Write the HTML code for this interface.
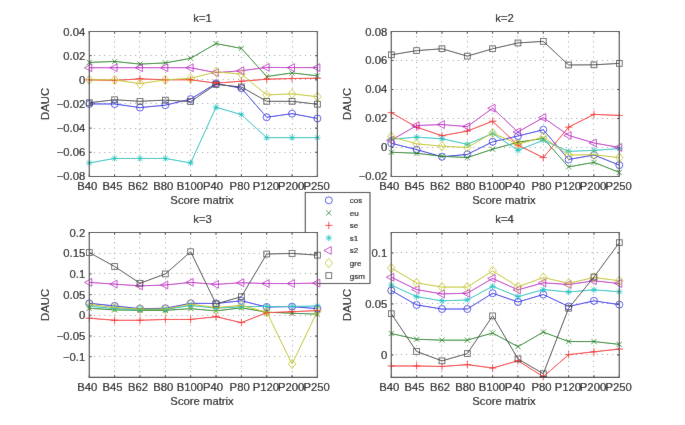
<!DOCTYPE html>
<html><head><meta charset="utf-8"><style>
html,body{margin:0;padding:0;background:#fff;}
svg{display:block;}
text{font-family:"Liberation Sans", sans-serif;font-size:11.3px;fill:#000;stroke:#000;stroke-width:0.15px;}
.yl{text-anchor:end;}
.xl{text-anchor:middle;}
.lg{font-size:8px;}
.grid{stroke:#999;stroke-width:1;stroke-dasharray:1 4.15;stroke-dashoffset:0.5;fill:none;}
.tick{stroke:#333;stroke-width:1;fill:none;}
.axh{stroke:#3a3a3a;stroke-width:1.1;fill:none;}
.axv{stroke:#555;stroke-width:1.25;fill:none;}
.ln{fill:none;stroke-width:1.0;stroke-linejoin:round;}
.mk *{fill:none;stroke-width:0.8;}
</style></head><body>
<svg width="685" height="425" viewBox="0 0 685 425">
<defs><filter id="bl" x="0" y="0" width="1" height="1"><feConvolveMatrix order="3" kernelMatrix="0.01 0.05 0.01 0.05 0.76 0.05 0.01 0.05 0.01" edgeMode="duplicate"/></filter></defs>
<g filter="url(#bl)">
<rect width="685" height="425" fill="#fff"/>
<rect x="89.3" y="31.5" width="228.1" height="144.95" fill="#fff"/>
<path class="grid" d="M114.5 31.5V176.45M139.5 31.5V176.45M165.5 31.5V176.45M190.5 31.5V176.45M216.5 31.5V176.45M241.5 31.5V176.45M266.5 31.5V176.45M292.5 31.5V176.45M89.3 55.5H317.4M89.3 79.5H317.4M89.3 103.5H317.4M89.3 128.5H317.4M89.3 152.5H317.4"/>
<path class="tick" d="M89.3 176.45v-2.3M89.3 31.5v2.3M114.64 176.45v-2.3M114.64 31.5v2.3M139.99 176.45v-2.3M139.99 31.5v2.3M165.33 176.45v-2.3M165.33 31.5v2.3M190.68 176.45v-2.3M190.68 31.5v2.3M216.02 176.45v-2.3M216.02 31.5v2.3M241.37 176.45v-2.3M241.37 31.5v2.3M266.71 176.45v-2.3M266.71 31.5v2.3M292.06 176.45v-2.3M292.06 31.5v2.3M317.4 176.45v-2.3M317.4 31.5v2.3M89.3 31.5h2.3M317.4 31.5h-2.3M89.3 55.66h2.3M317.4 55.66h-2.3M89.3 79.82h2.3M317.4 79.82h-2.3M89.3 103.97h2.3M317.4 103.97h-2.3M89.3 128.13h2.3M317.4 128.13h-2.3M89.3 152.29h2.3M317.4 152.29h-2.3M89.3 176.45h2.3M317.4 176.45h-2.3"/>
<polyline class="ln" points="89.3,103.97 114.64,103.97 139.99,107.6 165.33,105.18 190.68,99.14 216.02,83.44 241.37,88.27 266.71,117.26 292.06,113.64 317.4,118.47" stroke="#2626e6"/>
<g class="mk"><circle cx="89.3" cy="103.97" r="3.5" stroke="#2626e6"/><circle cx="114.64" cy="103.97" r="3.5" stroke="#2626e6"/><circle cx="139.99" cy="107.6" r="3.5" stroke="#2626e6"/><circle cx="165.33" cy="105.18" r="3.5" stroke="#2626e6"/><circle cx="190.68" cy="99.14" r="3.5" stroke="#2626e6"/><circle cx="216.02" cy="83.44" r="3.5" stroke="#2626e6"/><circle cx="241.37" cy="88.27" r="3.5" stroke="#2626e6"/><circle cx="266.71" cy="117.26" r="3.5" stroke="#2626e6"/><circle cx="292.06" cy="113.64" r="3.5" stroke="#2626e6"/><circle cx="317.4" cy="118.47" r="3.5" stroke="#2626e6"/></g>
<polyline class="ln" points="89.3,62.42 114.64,61.46 139.99,64.11 165.33,62.91 190.68,58.32 216.02,43.58 241.37,48.41 266.71,76.56 292.06,72.93 317.4,75.83" stroke="#128012"/>
<g class="mk"><path d="M86.7 59.82L91.9 65.02M86.7 65.02L91.9 59.82" stroke="#128012"/><path d="M112.04 58.86L117.24 64.06M112.04 64.06L117.24 58.86" stroke="#128012"/><path d="M137.39 61.51L142.59 66.71M137.39 66.71L142.59 61.51" stroke="#128012"/><path d="M162.73 60.31L167.93 65.51M162.73 65.51L167.93 60.31" stroke="#128012"/><path d="M188.08 55.72L193.28 60.92M188.08 60.92L193.28 55.72" stroke="#128012"/><path d="M213.42 40.98L218.62 46.18M213.42 46.18L218.62 40.98" stroke="#128012"/><path d="M238.77 45.81L243.97 51.01M238.77 51.01L243.97 45.81" stroke="#128012"/><path d="M264.11 73.96L269.31 79.16M264.11 79.16L269.31 73.96" stroke="#128012"/><path d="M289.46 70.33L294.66 75.53M289.46 75.53L294.66 70.33" stroke="#128012"/><path d="M314.8 73.23L320 78.43M314.8 78.43L320 73.23" stroke="#128012"/></g>
<polyline class="ln" points="89.3,79.82 114.64,80.42 139.99,78.85 165.33,79.82 190.68,79.82 216.02,83.08 241.37,81.27 266.71,79.21 292.06,78.49 317.4,78.25" stroke="#f41c1c"/>
<g class="mk"><path d="M85.6 79.82H93M89.3 76.12V83.52" stroke="#f41c1c"/><path d="M110.94 80.42H118.34M114.64 76.72V84.12" stroke="#f41c1c"/><path d="M136.29 78.85H143.69M139.99 75.15V82.55" stroke="#f41c1c"/><path d="M161.63 79.82H169.03M165.33 76.12V83.52" stroke="#f41c1c"/><path d="M186.98 79.82H194.38M190.68 76.12V83.52" stroke="#f41c1c"/><path d="M212.32 83.08H219.72M216.02 79.38V86.78" stroke="#f41c1c"/><path d="M237.67 81.27H245.07M241.37 77.57V84.97" stroke="#f41c1c"/><path d="M263.01 79.21H270.41M266.71 75.51V82.91" stroke="#f41c1c"/><path d="M288.36 78.49H295.76M292.06 74.79V82.19" stroke="#f41c1c"/><path d="M313.7 78.25H321.1M317.4 74.55V81.95" stroke="#f41c1c"/></g>
<polyline class="ln" points="89.3,162.92 114.64,158.45 139.99,158.45 165.33,158.45 190.68,162.92 216.02,107.24 241.37,114.6 266.71,137.68 292.06,137.68 317.4,137.68" stroke="#14c0c0"/>
<g class="mk"><path d="M86.1 162.92H92.5M89.3 159.72V166.12M86.9 160.52L91.7 165.32M86.9 165.32L91.7 160.52" stroke="#14c0c0"/><path d="M111.44 158.45H117.84M114.64 155.25V161.65M112.24 156.05L117.04 160.85M112.24 160.85L117.04 156.05" stroke="#14c0c0"/><path d="M136.79 158.45H143.19M139.99 155.25V161.65M137.59 156.05L142.39 160.85M137.59 160.85L142.39 156.05" stroke="#14c0c0"/><path d="M162.13 158.45H168.53M165.33 155.25V161.65M162.93 156.05L167.73 160.85M162.93 160.85L167.73 156.05" stroke="#14c0c0"/><path d="M187.48 162.92H193.88M190.68 159.72V166.12M188.28 160.52L193.08 165.32M188.28 165.32L193.08 160.52" stroke="#14c0c0"/><path d="M212.82 107.24H219.22M216.02 104.04V110.44M213.62 104.84L218.42 109.64M213.62 109.64L218.42 104.84" stroke="#14c0c0"/><path d="M238.17 114.6H244.57M241.37 111.4V117.8M238.97 112.2L243.77 117M238.97 117L243.77 112.2" stroke="#14c0c0"/><path d="M263.51 137.68H269.91M266.71 134.48V140.88M264.31 135.28L269.11 140.08M264.31 140.08L269.11 135.28" stroke="#14c0c0"/><path d="M288.86 137.68H295.26M292.06 134.48V140.88M289.66 135.28L294.46 140.08M289.66 140.08L294.46 135.28" stroke="#14c0c0"/><path d="M314.2 137.68H320.6M317.4 134.48V140.88M315 135.28L319.8 140.08M315 140.08L319.8 135.28" stroke="#14c0c0"/></g>
<polyline class="ln" points="89.3,67.74 114.64,67.74 139.99,67.74 165.33,67.74 190.68,67.74 216.02,72.69 241.37,70.76 266.71,67.38 292.06,67.62 317.4,67.62" stroke="#bc1cc4"/>
<g class="mk"><path d="M84.4 67.74L91.75 63.84L91.75 71.64Z" stroke="#bc1cc4"/><path d="M109.74 67.74L117.09 63.84L117.09 71.64Z" stroke="#bc1cc4"/><path d="M135.09 67.74L142.44 63.84L142.44 71.64Z" stroke="#bc1cc4"/><path d="M160.43 67.74L167.78 63.84L167.78 71.64Z" stroke="#bc1cc4"/><path d="M185.78 67.74L193.13 63.84L193.13 71.64Z" stroke="#bc1cc4"/><path d="M211.12 72.69L218.47 68.79L218.47 76.59Z" stroke="#bc1cc4"/><path d="M236.47 70.76L243.82 66.86L243.82 74.66Z" stroke="#bc1cc4"/><path d="M261.81 67.38L269.16 63.48L269.16 71.28Z" stroke="#bc1cc4"/><path d="M287.16 67.62L294.51 63.72L294.51 71.52Z" stroke="#bc1cc4"/><path d="M312.5 67.62L319.85 63.72L319.85 71.52Z" stroke="#bc1cc4"/></g>
<polyline class="ln" points="89.3,79.82 114.64,79.82 139.99,83.68 165.33,79.82 190.68,78.37 216.02,71.84 241.37,74.14 266.71,94.92 292.06,93.83 317.4,96.73" stroke="#c4c418"/>
<g class="mk"><path d="M89.3 75.12L93.1 79.82L89.3 84.52L85.5 79.82Z" stroke="#c4c418"/><path d="M114.64 75.12L118.44 79.82L114.64 84.52L110.84 79.82Z" stroke="#c4c418"/><path d="M139.99 78.98L143.79 83.68L139.99 88.38L136.19 83.68Z" stroke="#c4c418"/><path d="M165.33 75.12L169.13 79.82L165.33 84.52L161.53 79.82Z" stroke="#c4c418"/><path d="M190.68 73.67L194.48 78.37L190.68 83.07L186.88 78.37Z" stroke="#c4c418"/><path d="M216.02 67.14L219.82 71.84L216.02 76.54L212.22 71.84Z" stroke="#c4c418"/><path d="M241.37 69.44L245.17 74.14L241.37 78.84L237.57 74.14Z" stroke="#c4c418"/><path d="M266.71 90.22L270.51 94.92L266.71 99.62L262.91 94.92Z" stroke="#c4c418"/><path d="M292.06 89.13L295.86 93.83L292.06 98.53L288.26 93.83Z" stroke="#c4c418"/><path d="M317.4 92.03L321.2 96.73L317.4 101.43L313.6 96.73Z" stroke="#c4c418"/></g>
<polyline class="ln" points="89.3,102.77 114.64,99.75 139.99,101.32 165.33,100.11 190.68,101.56 216.02,84.41 241.37,86.94 266.71,101.32 292.06,101.32 317.4,104.22" stroke="#444444"/>
<g class="mk"><rect x="86.4" y="99.87" width="5.8" height="5.8" stroke="#444444"/><rect x="111.74" y="96.85" width="5.8" height="5.8" stroke="#444444"/><rect x="137.09" y="98.42" width="5.8" height="5.8" stroke="#444444"/><rect x="162.43" y="97.21" width="5.8" height="5.8" stroke="#444444"/><rect x="187.78" y="98.66" width="5.8" height="5.8" stroke="#444444"/><rect x="213.12" y="81.51" width="5.8" height="5.8" stroke="#444444"/><rect x="238.47" y="84.04" width="5.8" height="5.8" stroke="#444444"/><rect x="263.81" y="98.42" width="5.8" height="5.8" stroke="#444444"/><rect x="289.16" y="98.42" width="5.8" height="5.8" stroke="#444444"/><rect x="314.5" y="101.32" width="5.8" height="5.8" stroke="#444444"/></g>
<path class="axh" d="M88.7 31.5H318M88.7 176.45H318"/>
<path class="axv" d="M89.3 31.5V176.45M317.4 31.5V176.45"/>
<text class="yl" x="85.3" y="35.5">0.04</text>
<text class="yl" x="85.3" y="59.66">0.02</text>
<text class="yl" x="85.3" y="83.82">0</text>
<text class="yl" x="85.3" y="107.97">−0.02</text>
<text class="yl" x="85.3" y="132.13">−0.04</text>
<text class="yl" x="85.3" y="156.29">−0.06</text>
<text class="yl" x="85.3" y="180.45">−0.08</text>
<text class="xl" x="87.2" y="189.95">B40</text>
<text class="xl" x="112.54" y="189.95">B45</text>
<text class="xl" x="138.09" y="189.95">B62</text>
<text class="xl" x="163.33" y="189.95">B80</text>
<text class="xl" x="189.93" y="189.95">B100</text>
<text class="xl" x="212.97" y="189.95">P40</text>
<text class="xl" x="239.67" y="189.95">P80</text>
<text class="xl" x="265.91" y="189.95">P120</text>
<text class="xl" x="291.11" y="189.95">P200</text>
<text class="xl" x="316.7" y="189.95">P250</text>
<text class="xl" x="202.05" y="204.05">Score matrix</text>
<text class="xl" x="202.55" y="22.2">k=1</text>
<text class="xl" transform="translate(49 103.97) rotate(-90)">DAUC</text>
<rect x="391.3" y="31.5" width="228" height="144.95" fill="#fff"/>
<path class="grid" d="M416.5 31.5V176.45M441.5 31.5V176.45M467.5 31.5V176.45M492.5 31.5V176.45M517.5 31.5V176.45M543.5 31.5V176.45M568.5 31.5V176.45M593.5 31.5V176.45M391.3 60.5H619.3M391.3 89.5H619.3M391.3 118.5H619.3M391.3 147.5H619.3"/>
<path class="tick" d="M391.3 176.45v-2.3M391.3 31.5v2.3M416.63 176.45v-2.3M416.63 31.5v2.3M441.97 176.45v-2.3M441.97 31.5v2.3M467.3 176.45v-2.3M467.3 31.5v2.3M492.63 176.45v-2.3M492.63 31.5v2.3M517.97 176.45v-2.3M517.97 31.5v2.3M543.3 176.45v-2.3M543.3 31.5v2.3M568.63 176.45v-2.3M568.63 31.5v2.3M593.97 176.45v-2.3M593.97 31.5v2.3M619.3 176.45v-2.3M619.3 31.5v2.3M391.3 31.5h2.3M619.3 31.5h-2.3M391.3 60.49h2.3M619.3 60.49h-2.3M391.3 89.48h2.3M619.3 89.48h-2.3M391.3 118.47h2.3M619.3 118.47h-2.3M391.3 147.46h2.3M619.3 147.46h-2.3M391.3 176.45h2.3M619.3 176.45h-2.3"/>
<polyline class="ln" points="391.3,143.26 416.63,149.63 441.97,156.74 467.3,154.42 492.63,141.81 517.97,136.01 543.3,129.78 568.63,159.49 593.97,155 619.3,165.14" stroke="#2626e6"/>
<g class="mk"><circle cx="391.3" cy="143.26" r="3.5" stroke="#2626e6"/><circle cx="416.63" cy="149.63" r="3.5" stroke="#2626e6"/><circle cx="441.97" cy="156.74" r="3.5" stroke="#2626e6"/><circle cx="467.3" cy="154.42" r="3.5" stroke="#2626e6"/><circle cx="492.63" cy="141.81" r="3.5" stroke="#2626e6"/><circle cx="517.97" cy="136.01" r="3.5" stroke="#2626e6"/><circle cx="543.3" cy="129.78" r="3.5" stroke="#2626e6"/><circle cx="568.63" cy="159.49" r="3.5" stroke="#2626e6"/><circle cx="593.97" cy="155" r="3.5" stroke="#2626e6"/><circle cx="619.3" cy="165.14" r="3.5" stroke="#2626e6"/></g>
<polyline class="ln" points="391.3,152.24 416.63,153.26 441.97,156.3 467.3,157.61 492.63,149.2 517.97,142.24 543.3,138.47 568.63,166.88 593.97,162.39 619.3,172.39" stroke="#128012"/>
<g class="mk"><path d="M388.7 149.64L393.9 154.84M388.7 154.84L393.9 149.64" stroke="#128012"/><path d="M414.03 150.66L419.23 155.86M414.03 155.86L419.23 150.66" stroke="#128012"/><path d="M439.37 153.7L444.57 158.9M439.37 158.9L444.57 153.7" stroke="#128012"/><path d="M464.7 155.01L469.9 160.21M464.7 160.21L469.9 155.01" stroke="#128012"/><path d="M490.03 146.6L495.23 151.8M490.03 151.8L495.23 146.6" stroke="#128012"/><path d="M515.37 139.64L520.57 144.84M515.37 144.84L520.57 139.64" stroke="#128012"/><path d="M540.7 135.87L545.9 141.07M540.7 141.07L545.9 135.87" stroke="#128012"/><path d="M566.03 164.28L571.23 169.48M566.03 169.48L571.23 164.28" stroke="#128012"/><path d="M591.37 159.79L596.57 164.99M591.37 164.99L596.57 159.79" stroke="#128012"/><path d="M616.7 169.79L621.9 174.99M616.7 174.99L621.9 169.79" stroke="#128012"/></g>
<polyline class="ln" points="391.3,112.67 416.63,127.17 441.97,135.72 467.3,131.08 492.63,121.22 517.97,145.14 543.3,157.61 568.63,127.17 593.97,114.41 619.3,115.43" stroke="#f41c1c"/>
<g class="mk"><path d="M387.6 112.67H395M391.3 108.97V116.37" stroke="#f41c1c"/><path d="M412.93 127.17H420.33M416.63 123.47V130.87" stroke="#f41c1c"/><path d="M438.27 135.72H445.67M441.97 132.02V139.42" stroke="#f41c1c"/><path d="M463.6 131.08H471M467.3 127.38V134.78" stroke="#f41c1c"/><path d="M488.93 121.22H496.33M492.63 117.52V124.92" stroke="#f41c1c"/><path d="M514.27 145.14H521.67M517.97 141.44V148.84" stroke="#f41c1c"/><path d="M539.6 157.61H547M543.3 153.91V161.31" stroke="#f41c1c"/><path d="M564.93 127.17H572.33M568.63 123.47V130.87" stroke="#f41c1c"/><path d="M590.27 114.41H597.67M593.97 110.71V118.11" stroke="#f41c1c"/><path d="M615.6 115.43H623M619.3 111.73V119.13" stroke="#f41c1c"/></g>
<polyline class="ln" points="391.3,139.2 416.63,137.17 441.97,138.76 467.3,144.27 492.63,133.4 517.97,150.36 543.3,140.21 568.63,151.37 593.97,150.36 619.3,148.62" stroke="#14c0c0"/>
<g class="mk"><path d="M388.1 139.2H394.5M391.3 136V142.4M388.9 136.8L393.7 141.6M388.9 141.6L393.7 136.8" stroke="#14c0c0"/><path d="M413.43 137.17H419.83M416.63 133.97V140.37M414.23 134.77L419.03 139.57M414.23 139.57L419.03 134.77" stroke="#14c0c0"/><path d="M438.77 138.76H445.17M441.97 135.56V141.96M439.57 136.36L444.37 141.16M439.57 141.16L444.37 136.36" stroke="#14c0c0"/><path d="M464.1 144.27H470.5M467.3 141.07V147.47M464.9 141.87L469.7 146.67M464.9 146.67L469.7 141.87" stroke="#14c0c0"/><path d="M489.43 133.4H495.83M492.63 130.2V136.6M490.23 131L495.03 135.8M490.23 135.8L495.03 131" stroke="#14c0c0"/><path d="M514.77 150.36H521.17M517.97 147.16V153.56M515.57 147.96L520.37 152.76M515.57 152.76L520.37 147.96" stroke="#14c0c0"/><path d="M540.1 140.21H546.5M543.3 137.01V143.41M540.9 137.81L545.7 142.61M540.9 142.61L545.7 137.81" stroke="#14c0c0"/><path d="M565.43 151.37H571.83M568.63 148.17V154.57M566.23 148.97L571.03 153.77M566.23 153.77L571.03 148.97" stroke="#14c0c0"/><path d="M590.77 150.36H597.17M593.97 147.16V153.56M591.57 147.96L596.37 152.76M591.57 152.76L596.37 147.96" stroke="#14c0c0"/><path d="M616.1 148.62H622.5M619.3 145.42V151.82M616.9 146.22L621.7 151.02M616.9 151.02L621.7 146.22" stroke="#14c0c0"/></g>
<polyline class="ln" points="391.3,140.21 416.63,125.57 441.97,124.56 467.3,126.59 492.63,108.18 517.97,131.95 543.3,117.6 568.63,135.43 593.97,142.97 619.3,147.46" stroke="#bc1cc4"/>
<g class="mk"><path d="M386.4 140.21L393.75 136.31L393.75 144.11Z" stroke="#bc1cc4"/><path d="M411.73 125.57L419.08 121.67L419.08 129.47Z" stroke="#bc1cc4"/><path d="M437.07 124.56L444.42 120.66L444.42 128.46Z" stroke="#bc1cc4"/><path d="M462.4 126.59L469.75 122.69L469.75 130.49Z" stroke="#bc1cc4"/><path d="M487.73 108.18L495.08 104.28L495.08 112.08Z" stroke="#bc1cc4"/><path d="M513.07 131.95L520.42 128.05L520.42 135.85Z" stroke="#bc1cc4"/><path d="M538.4 117.6L545.75 113.7L545.75 121.5Z" stroke="#bc1cc4"/><path d="M563.73 135.43L571.08 131.53L571.08 139.33Z" stroke="#bc1cc4"/><path d="M589.07 142.97L596.42 139.07L596.42 146.87Z" stroke="#bc1cc4"/><path d="M614.4 147.46L621.75 143.56L621.75 151.36Z" stroke="#bc1cc4"/></g>
<polyline class="ln" points="391.3,136.73 416.63,143.84 441.97,146.16 467.3,147.46 492.63,132.97 517.97,144.27 543.3,137.02 568.63,155 593.97,154.71 619.3,157.61" stroke="#c4c418"/>
<g class="mk"><path d="M391.3 132.03L395.1 136.73L391.3 141.43L387.5 136.73Z" stroke="#c4c418"/><path d="M416.63 139.14L420.43 143.84L416.63 148.54L412.83 143.84Z" stroke="#c4c418"/><path d="M441.97 141.46L445.77 146.16L441.97 150.86L438.17 146.16Z" stroke="#c4c418"/><path d="M467.3 142.76L471.1 147.46L467.3 152.16L463.5 147.46Z" stroke="#c4c418"/><path d="M492.63 128.27L496.43 132.97L492.63 137.66L488.83 132.97Z" stroke="#c4c418"/><path d="M517.97 139.57L521.77 144.27L517.97 148.97L514.17 144.27Z" stroke="#c4c418"/><path d="M543.3 132.32L547.1 137.02L543.3 141.72L539.5 137.02Z" stroke="#c4c418"/><path d="M568.63 150.3L572.43 155L568.63 159.7L564.83 155Z" stroke="#c4c418"/><path d="M593.97 150.01L597.77 154.71L593.97 159.41L590.17 154.71Z" stroke="#c4c418"/><path d="M619.3 152.91L623.1 157.61L619.3 162.31L615.5 157.61Z" stroke="#c4c418"/></g>
<polyline class="ln" points="391.3,54.84 416.63,50.63 441.97,48.75 467.3,56.14 492.63,48.75 517.97,42.95 543.3,41.36 568.63,64.98 593.97,64.84 619.3,63.39" stroke="#444444"/>
<g class="mk"><rect x="388.4" y="51.94" width="5.8" height="5.8" stroke="#444444"/><rect x="413.73" y="47.73" width="5.8" height="5.8" stroke="#444444"/><rect x="439.07" y="45.85" width="5.8" height="5.8" stroke="#444444"/><rect x="464.4" y="53.24" width="5.8" height="5.8" stroke="#444444"/><rect x="489.73" y="45.85" width="5.8" height="5.8" stroke="#444444"/><rect x="515.07" y="40.05" width="5.8" height="5.8" stroke="#444444"/><rect x="540.4" y="38.46" width="5.8" height="5.8" stroke="#444444"/><rect x="565.73" y="62.08" width="5.8" height="5.8" stroke="#444444"/><rect x="591.07" y="61.94" width="5.8" height="5.8" stroke="#444444"/><rect x="616.4" y="60.49" width="5.8" height="5.8" stroke="#444444"/></g>
<path class="axh" d="M390.7 31.5H619.9M390.7 176.45H619.9"/>
<path class="axv" d="M391.3 31.5V176.45M619.3 31.5V176.45"/>
<text class="yl" x="387.3" y="35.5">0.08</text>
<text class="yl" x="387.3" y="64.49">0.06</text>
<text class="yl" x="387.3" y="93.48">0.04</text>
<text class="yl" x="387.3" y="122.47">0.02</text>
<text class="yl" x="387.3" y="151.46">0</text>
<text class="yl" x="387.3" y="180.45">−0.02</text>
<text class="xl" x="389.2" y="189.95">B40</text>
<text class="xl" x="414.53" y="189.95">B45</text>
<text class="xl" x="440.07" y="189.95">B62</text>
<text class="xl" x="465.3" y="189.95">B80</text>
<text class="xl" x="491.88" y="189.95">B100</text>
<text class="xl" x="514.92" y="189.95">P40</text>
<text class="xl" x="541.6" y="189.95">P80</text>
<text class="xl" x="567.83" y="189.95">P120</text>
<text class="xl" x="593.02" y="189.95">P200</text>
<text class="xl" x="618.6" y="189.95">P250</text>
<text class="xl" x="504" y="204.05">Score matrix</text>
<text class="xl" x="504.5" y="22.2">k=2</text>
<text class="xl" transform="translate(351 103.97) rotate(-90)">DAUC</text>
<rect x="305.3" y="192.5" width="64.7" height="91" fill="#fff" stroke="#444" stroke-width="1.1"/>
<g class="mk"><circle cx="328.8" cy="200.3" r="3.5" stroke="#2626e6"/></g>
<text class="lg" x="349.8" y="203.2">cos</text>
<g class="mk"><path d="M326.2 210.25L331.4 215.45M326.2 215.45L331.4 210.25" stroke="#128012"/></g>
<text class="lg" x="349.8" y="215.75">eu</text>
<g class="mk"><path d="M325.1 225.4H332.5M328.8 221.7V229.1" stroke="#f41c1c"/></g>
<text class="lg" x="349.8" y="228.3">se</text>
<g class="mk"><path d="M325.6 237.95H332M328.8 234.75V241.15M326.4 235.55L331.2 240.35M326.4 240.35L331.2 235.55" stroke="#14c0c0"/></g>
<text class="lg" x="349.8" y="240.85">s1</text>
<g class="mk"><path d="M323.9 250.5L331.25 246.6L331.25 254.4Z" stroke="#bc1cc4"/></g>
<text class="lg" x="349.8" y="253.4">s2</text>
<g class="mk"><path d="M328.8 258.35L332.6 263.05L328.8 267.75L325 263.05Z" stroke="#c4c418"/></g>
<text class="lg" x="349.8" y="265.95">gre</text>
<g class="mk"><rect x="325.9" y="272.7" width="5.8" height="5.8" stroke="#444444"/></g>
<text class="lg" x="349.8" y="278.5">gsm</text>
<rect x="89.3" y="232.5" width="228.1" height="144.9" fill="#fff"/>
<path class="grid" d="M114.5 232.5V377.4M139.5 232.5V377.4M165.5 232.5V377.4M190.5 232.5V377.4M216.5 232.5V377.4M241.5 232.5V377.4M266.5 232.5V377.4M292.5 232.5V377.4M89.3 253.5H317.4M89.3 273.5H317.4M89.3 294.5H317.4M89.3 315.5H317.4M89.3 336.5H317.4M89.3 356.5H317.4"/>
<path class="tick" d="M89.3 377.4v-2.3M89.3 232.5v2.3M114.64 377.4v-2.3M114.64 232.5v2.3M139.99 377.4v-2.3M139.99 232.5v2.3M165.33 377.4v-2.3M165.33 232.5v2.3M190.68 377.4v-2.3M190.68 232.5v2.3M216.02 377.4v-2.3M216.02 232.5v2.3M241.37 377.4v-2.3M241.37 232.5v2.3M266.71 377.4v-2.3M266.71 232.5v2.3M292.06 377.4v-2.3M292.06 232.5v2.3M317.4 377.4v-2.3M317.4 232.5v2.3M89.3 232.5h2.3M317.4 232.5h-2.3M89.3 253.2h2.3M317.4 253.2h-2.3M89.3 273.9h2.3M317.4 273.9h-2.3M89.3 294.6h2.3M317.4 294.6h-2.3M89.3 315.3h2.3M317.4 315.3h-2.3M89.3 336h2.3M317.4 336h-2.3M89.3 356.7h2.3M317.4 356.7h-2.3"/>
<polyline class="ln" points="89.3,303.29 114.64,305.9 139.99,308.68 165.33,308.26 190.68,303.29 216.02,303.5 241.37,300.81 266.71,307.02 292.06,306.61 317.4,308.68" stroke="#2626e6"/>
<g class="mk"><circle cx="89.3" cy="303.29" r="3.5" stroke="#2626e6"/><circle cx="114.64" cy="305.9" r="3.5" stroke="#2626e6"/><circle cx="139.99" cy="308.68" r="3.5" stroke="#2626e6"/><circle cx="165.33" cy="308.26" r="3.5" stroke="#2626e6"/><circle cx="190.68" cy="303.29" r="3.5" stroke="#2626e6"/><circle cx="216.02" cy="303.5" r="3.5" stroke="#2626e6"/><circle cx="241.37" cy="300.81" r="3.5" stroke="#2626e6"/><circle cx="266.71" cy="307.02" r="3.5" stroke="#2626e6"/><circle cx="292.06" cy="306.61" r="3.5" stroke="#2626e6"/><circle cx="317.4" cy="308.68" r="3.5" stroke="#2626e6"/></g>
<polyline class="ln" points="89.3,308.26 114.64,309.92 139.99,310.33 165.33,310.33 190.68,308.68 216.02,310.91 241.37,307.85 266.71,312.19 292.06,313.23 317.4,314.18" stroke="#128012"/>
<g class="mk"><path d="M86.7 305.66L91.9 310.86M86.7 310.86L91.9 305.66" stroke="#128012"/><path d="M112.04 307.32L117.24 312.52M112.04 312.52L117.24 307.32" stroke="#128012"/><path d="M137.39 307.73L142.59 312.93M137.39 312.93L142.59 307.73" stroke="#128012"/><path d="M162.73 307.73L167.93 312.93M162.73 312.93L167.93 307.73" stroke="#128012"/><path d="M188.08 306.08L193.28 311.28M188.08 311.28L193.28 306.08" stroke="#128012"/><path d="M213.42 308.31L218.62 313.51M213.42 313.51L218.62 308.31" stroke="#128012"/><path d="M238.77 305.25L243.97 310.45M238.77 310.45L243.97 305.25" stroke="#128012"/><path d="M264.11 309.59L269.31 314.8M264.11 314.8L269.31 309.59" stroke="#128012"/><path d="M289.46 310.63L294.66 315.83M289.46 315.83L294.66 310.63" stroke="#128012"/><path d="M314.8 311.58L320 316.78M314.8 316.78L320 311.58" stroke="#128012"/></g>
<polyline class="ln" points="89.3,318.2 114.64,320.27 139.99,320.27 165.33,319.44 190.68,319.44 216.02,316.71 241.37,322.63 266.71,312.69 292.06,311.7 317.4,310.58" stroke="#f41c1c"/>
<g class="mk"><path d="M85.6 318.2H93M89.3 314.5V321.9" stroke="#f41c1c"/><path d="M110.94 320.27H118.34M114.64 316.57V323.97" stroke="#f41c1c"/><path d="M136.29 320.27H143.69M139.99 316.57V323.97" stroke="#f41c1c"/><path d="M161.63 319.44H169.03M165.33 315.74V323.14" stroke="#f41c1c"/><path d="M186.98 319.44H194.38M190.68 315.74V323.14" stroke="#f41c1c"/><path d="M212.32 316.71H219.72M216.02 313.01V320.41" stroke="#f41c1c"/><path d="M237.67 322.63H245.07M241.37 318.93V326.33" stroke="#f41c1c"/><path d="M263.01 312.69H270.41M266.71 308.99V316.39" stroke="#f41c1c"/><path d="M288.36 311.7H295.76M292.06 308V315.4" stroke="#f41c1c"/><path d="M313.7 310.58H321.1M317.4 306.88V314.28" stroke="#f41c1c"/></g>
<polyline class="ln" points="89.3,306.19 114.64,308.68 139.99,309.5 165.33,309.5 190.68,305.49 216.02,308.26 241.37,306.69 266.71,306.48 292.06,306.48 317.4,305.99" stroke="#14c0c0"/>
<g class="mk"><path d="M86.1 306.19H92.5M89.3 302.99V309.39M86.9 303.79L91.7 308.59M86.9 308.59L91.7 303.79" stroke="#14c0c0"/><path d="M111.44 308.68H117.84M114.64 305.48V311.88M112.24 306.28L117.04 311.08M112.24 311.08L117.04 306.28" stroke="#14c0c0"/><path d="M136.79 309.5H143.19M139.99 306.3V312.7M137.59 307.1L142.39 311.9M137.59 311.9L142.39 307.1" stroke="#14c0c0"/><path d="M162.13 309.5H168.53M165.33 306.3V312.7M162.93 307.1L167.73 311.9M162.93 311.9L167.73 307.1" stroke="#14c0c0"/><path d="M187.48 305.49H193.88M190.68 302.29V308.69M188.28 303.09L193.08 307.89M188.28 307.89L193.08 303.09" stroke="#14c0c0"/><path d="M212.82 308.26H219.22M216.02 305.06V311.46M213.62 305.86L218.42 310.66M213.62 310.66L218.42 305.86" stroke="#14c0c0"/><path d="M238.17 306.69H244.57M241.37 303.49V309.89M238.97 304.29L243.77 309.09M238.97 309.09L243.77 304.29" stroke="#14c0c0"/><path d="M263.51 306.48H269.91M266.71 303.28V309.68M264.31 304.08L269.11 308.88M264.31 308.88L269.11 304.08" stroke="#14c0c0"/><path d="M288.86 306.48H295.26M292.06 303.28V309.68M289.66 304.08L294.46 308.88M289.66 308.88L294.46 304.08" stroke="#14c0c0"/><path d="M314.2 305.99H320.6M317.4 302.79V309.19M315 303.59L319.8 308.38M315 308.38L319.8 303.59" stroke="#14c0c0"/></g>
<polyline class="ln" points="89.3,282.39 114.64,284.17 139.99,285.86 165.33,285 190.68,282.39 216.02,284.37 241.37,282.76 266.71,283.55 292.06,283.55 317.4,283.09" stroke="#bc1cc4"/>
<g class="mk"><path d="M84.4 282.39L91.75 278.49L91.75 286.29Z" stroke="#bc1cc4"/><path d="M109.74 284.17L117.09 280.27L117.09 288.07Z" stroke="#bc1cc4"/><path d="M135.09 285.86L142.44 281.96L142.44 289.76Z" stroke="#bc1cc4"/><path d="M160.43 285L167.78 281.1L167.78 288.9Z" stroke="#bc1cc4"/><path d="M185.78 282.39L193.13 278.49L193.13 286.29Z" stroke="#bc1cc4"/><path d="M211.12 284.37L218.47 280.47L218.47 288.27Z" stroke="#bc1cc4"/><path d="M236.47 282.76L243.82 278.86L243.82 286.66Z" stroke="#bc1cc4"/><path d="M261.81 283.55L269.16 279.65L269.16 287.45Z" stroke="#bc1cc4"/><path d="M287.16 283.55L294.51 279.65L294.51 287.45Z" stroke="#bc1cc4"/><path d="M312.5 283.09L319.85 279.19L319.85 286.99Z" stroke="#bc1cc4"/></g>
<polyline class="ln" points="89.3,304.54 114.64,307.43 139.99,309.09 165.33,309.09 190.68,304.12 216.02,307.6 241.37,305.36 266.71,312.19 292.06,363.99 317.4,311.16" stroke="#c4c418"/>
<g class="mk"><path d="M89.3 299.84L93.1 304.54L89.3 309.24L85.5 304.54Z" stroke="#c4c418"/><path d="M114.64 302.73L118.44 307.43L114.64 312.13L110.84 307.43Z" stroke="#c4c418"/><path d="M139.99 304.39L143.79 309.09L139.99 313.79L136.19 309.09Z" stroke="#c4c418"/><path d="M165.33 304.39L169.13 309.09L165.33 313.79L161.53 309.09Z" stroke="#c4c418"/><path d="M190.68 299.42L194.48 304.12L190.68 308.82L186.88 304.12Z" stroke="#c4c418"/><path d="M216.02 302.9L219.82 307.6L216.02 312.3L212.22 307.6Z" stroke="#c4c418"/><path d="M241.37 300.66L245.17 305.36L241.37 310.06L237.57 305.36Z" stroke="#c4c418"/><path d="M266.71 307.5L270.51 312.19L266.71 316.89L262.91 312.19Z" stroke="#c4c418"/><path d="M292.06 359.29L295.86 363.99L292.06 368.69L288.26 363.99Z" stroke="#c4c418"/><path d="M317.4 306.46L321.2 311.16L317.4 315.86L313.6 311.16Z" stroke="#c4c418"/></g>
<polyline class="ln" points="89.3,252.54 114.64,266.53 139.99,283.26 165.33,273.94 190.68,251.75 216.02,304 241.37,296.67 266.71,254.03 292.06,253.45 317.4,255.15" stroke="#444444"/>
<g class="mk"><rect x="86.4" y="249.64" width="5.8" height="5.8" stroke="#444444"/><rect x="111.74" y="263.63" width="5.8" height="5.8" stroke="#444444"/><rect x="137.09" y="280.36" width="5.8" height="5.8" stroke="#444444"/><rect x="162.43" y="271.04" width="5.8" height="5.8" stroke="#444444"/><rect x="187.78" y="248.85" width="5.8" height="5.8" stroke="#444444"/><rect x="213.12" y="301.1" width="5.8" height="5.8" stroke="#444444"/><rect x="238.47" y="293.77" width="5.8" height="5.8" stroke="#444444"/><rect x="263.81" y="251.13" width="5.8" height="5.8" stroke="#444444"/><rect x="289.16" y="250.55" width="5.8" height="5.8" stroke="#444444"/><rect x="314.5" y="252.25" width="5.8" height="5.8" stroke="#444444"/></g>
<path class="axh" d="M88.7 232.5H318M88.7 377.4H318"/>
<path class="axv" d="M89.3 232.5V377.4M317.4 232.5V377.4"/>
<text class="yl" x="85.3" y="236.5">0.2</text>
<text class="yl" x="85.3" y="257.2">0.15</text>
<text class="yl" x="85.3" y="277.9">0.1</text>
<text class="yl" x="85.3" y="298.6">0.05</text>
<text class="yl" x="85.3" y="319.3">0</text>
<text class="yl" x="85.3" y="340">−0.05</text>
<text class="yl" x="85.3" y="360.7">−0.1</text>
<text class="xl" x="87.2" y="390.9">B40</text>
<text class="xl" x="112.54" y="390.9">B45</text>
<text class="xl" x="138.09" y="390.9">B62</text>
<text class="xl" x="163.33" y="390.9">B80</text>
<text class="xl" x="189.93" y="390.9">B100</text>
<text class="xl" x="212.97" y="390.9">P40</text>
<text class="xl" x="239.67" y="390.9">P80</text>
<text class="xl" x="265.91" y="390.9">P120</text>
<text class="xl" x="291.11" y="390.9">P200</text>
<text class="xl" x="316.7" y="390.9">P250</text>
<text class="xl" x="202.05" y="405">Score matrix</text>
<text class="xl" x="202.55" y="223.2">k=3</text>
<text class="xl" transform="translate(49 304.95) rotate(-90)">DAUC</text>
<rect x="391.3" y="232.5" width="228" height="144.9" fill="#fff"/>
<path class="grid" d="M416.5 232.5V377.4M441.5 232.5V377.4M467.5 232.5V377.4M492.5 232.5V377.4M517.5 232.5V377.4M543.5 232.5V377.4M568.5 232.5V377.4M593.5 232.5V377.4M391.3 252.5H619.3M391.3 303.5H619.3M391.3 354.5H619.3"/>
<path class="tick" d="M391.3 377.4v-2.3M391.3 232.5v2.3M416.63 377.4v-2.3M416.63 232.5v2.3M441.97 377.4v-2.3M441.97 232.5v2.3M467.3 377.4v-2.3M467.3 232.5v2.3M492.63 377.4v-2.3M492.63 232.5v2.3M517.97 377.4v-2.3M517.97 232.5v2.3M543.3 377.4v-2.3M543.3 232.5v2.3M568.63 377.4v-2.3M568.63 232.5v2.3M593.97 377.4v-2.3M593.97 232.5v2.3M619.3 377.4v-2.3M619.3 232.5v2.3M391.3 252.91h2.3M619.3 252.91h-2.3M391.3 303.93h2.3M619.3 303.93h-2.3M391.3 354.95h2.3M619.3 354.95h-2.3"/>
<polyline class="ln" points="391.3,290.56 416.63,304.95 441.97,309.03 467.3,309.03 492.63,293.22 517.97,301.99 543.3,294.54 568.63,306.48 593.97,300.87 619.3,304.64" stroke="#2626e6"/>
<g class="mk"><circle cx="391.3" cy="290.56" r="3.5" stroke="#2626e6"/><circle cx="416.63" cy="304.95" r="3.5" stroke="#2626e6"/><circle cx="441.97" cy="309.03" r="3.5" stroke="#2626e6"/><circle cx="467.3" cy="309.03" r="3.5" stroke="#2626e6"/><circle cx="492.63" cy="293.22" r="3.5" stroke="#2626e6"/><circle cx="517.97" cy="301.99" r="3.5" stroke="#2626e6"/><circle cx="543.3" cy="294.54" r="3.5" stroke="#2626e6"/><circle cx="568.63" cy="306.48" r="3.5" stroke="#2626e6"/><circle cx="593.97" cy="300.87" r="3.5" stroke="#2626e6"/><circle cx="619.3" cy="304.64" r="3.5" stroke="#2626e6"/></g>
<polyline class="ln" points="391.3,333.52 416.63,339.24 441.97,340.15 467.3,340.15 492.63,333.01 517.97,346.69 543.3,332.09 568.63,341.58 593.97,341.58 619.3,344.34" stroke="#128012"/>
<g class="mk"><path d="M388.7 330.92L393.9 336.12M388.7 336.12L393.9 330.92" stroke="#128012"/><path d="M414.03 336.64L419.23 341.84M414.03 341.84L419.23 336.64" stroke="#128012"/><path d="M439.37 337.55L444.57 342.75M439.37 342.75L444.57 337.55" stroke="#128012"/><path d="M464.7 337.55L469.9 342.75M464.7 342.75L469.9 337.55" stroke="#128012"/><path d="M490.03 330.41L495.23 335.61M490.03 335.61L495.23 330.41" stroke="#128012"/><path d="M515.37 344.09L520.57 349.29M515.37 349.29L520.57 344.09" stroke="#128012"/><path d="M540.7 329.49L545.9 334.69M540.7 334.69L545.9 329.49" stroke="#128012"/><path d="M566.03 338.98L571.23 344.18M566.03 344.18L571.23 338.98" stroke="#128012"/><path d="M591.37 338.98L596.57 344.18M591.37 344.18L596.57 338.98" stroke="#128012"/><path d="M616.7 341.74L621.9 346.94M616.7 346.94L621.9 341.74" stroke="#128012"/></g>
<polyline class="ln" points="391.3,365.97 416.63,365.97 441.97,366.48 467.3,364.64 492.63,368.01 517.97,360.77 543.3,376.69 568.63,354.64 593.97,351.79 619.3,349.03" stroke="#f41c1c"/>
<g class="mk"><path d="M387.6 365.97H395M391.3 362.27V369.67" stroke="#f41c1c"/><path d="M412.93 365.97H420.33M416.63 362.27V369.67" stroke="#f41c1c"/><path d="M438.27 366.48H445.67M441.97 362.78V370.18" stroke="#f41c1c"/><path d="M463.6 364.64H471M467.3 360.94V368.34" stroke="#f41c1c"/><path d="M488.93 368.01H496.33M492.63 364.31V371.71" stroke="#f41c1c"/><path d="M514.27 360.77H521.67M517.97 357.07V364.47" stroke="#f41c1c"/><path d="M539.6 376.69H547M543.3 372.99V380.39" stroke="#f41c1c"/><path d="M564.93 354.64H572.33M568.63 350.94V358.34" stroke="#f41c1c"/><path d="M590.27 351.79H597.67M593.97 348.09V355.49" stroke="#f41c1c"/><path d="M615.6 349.03H623M619.3 345.33V352.73" stroke="#f41c1c"/></g>
<polyline class="ln" points="391.3,285.05 416.63,296.68 441.97,300.87 467.3,299.95 492.63,286.28 517.97,296.68 543.3,289.64 568.63,291.99 593.97,289.85 619.3,291.79" stroke="#14c0c0"/>
<g class="mk"><path d="M388.1 285.05H394.5M391.3 281.85V288.25M388.9 282.65L393.7 287.45M388.9 287.45L393.7 282.65" stroke="#14c0c0"/><path d="M413.43 296.68H419.83M416.63 293.48V299.88M414.23 294.28L419.03 299.08M414.23 299.08L419.03 294.28" stroke="#14c0c0"/><path d="M438.77 300.87H445.17M441.97 297.67V304.07M439.57 298.47L444.37 303.27M439.57 303.27L444.37 298.47" stroke="#14c0c0"/><path d="M464.1 299.95H470.5M467.3 296.75V303.15M464.9 297.55L469.7 302.35M464.9 302.35L469.7 297.55" stroke="#14c0c0"/><path d="M489.43 286.28H495.83M492.63 283.08V289.48M490.23 283.88L495.03 288.68M490.23 288.68L495.03 283.88" stroke="#14c0c0"/><path d="M514.77 296.68H521.17M517.97 293.48V299.88M515.57 294.28L520.37 299.08M515.57 299.08L520.37 294.28" stroke="#14c0c0"/><path d="M540.1 289.64H546.5M543.3 286.44V292.84M540.9 287.24L545.7 292.04M540.9 292.04L545.7 287.24" stroke="#14c0c0"/><path d="M565.43 291.99H571.83M568.63 288.79V295.19M566.23 289.59L571.03 294.39M566.23 294.39L571.03 289.59" stroke="#14c0c0"/><path d="M590.77 289.85H597.17M593.97 286.65V293.05M591.57 287.45L596.37 292.25M591.57 292.25L596.37 287.45" stroke="#14c0c0"/><path d="M616.1 291.79H622.5M619.3 288.59V294.99M616.9 289.39L621.7 294.19M616.9 294.19L621.7 289.39" stroke="#14c0c0"/></g>
<polyline class="ln" points="391.3,277.19 416.63,289.64 441.97,293.93 467.3,293.22 492.63,278.42 517.97,289.85 543.3,282.81 568.63,284.54 593.97,280.77 619.3,283.52" stroke="#bc1cc4"/>
<g class="mk"><path d="M386.4 277.19L393.75 273.29L393.75 281.09Z" stroke="#bc1cc4"/><path d="M411.73 289.64L419.08 285.74L419.08 293.54Z" stroke="#bc1cc4"/><path d="M437.07 293.93L444.42 290.03L444.42 297.83Z" stroke="#bc1cc4"/><path d="M462.4 293.22L469.75 289.32L469.75 297.12Z" stroke="#bc1cc4"/><path d="M487.73 278.42L495.08 274.52L495.08 282.32Z" stroke="#bc1cc4"/><path d="M513.07 289.85L520.42 285.95L520.42 293.75Z" stroke="#bc1cc4"/><path d="M538.4 282.81L545.75 278.91L545.75 286.71Z" stroke="#bc1cc4"/><path d="M563.73 284.54L571.08 280.64L571.08 288.44Z" stroke="#bc1cc4"/><path d="M589.07 280.77L596.42 276.87L596.42 284.67Z" stroke="#bc1cc4"/><path d="M614.4 283.52L621.75 279.62L621.75 287.42Z" stroke="#bc1cc4"/></g>
<polyline class="ln" points="391.3,268.01 416.63,282.91 441.97,287.09 467.3,287.09 492.63,270.87 517.97,286.79 543.3,277.5 568.63,283.32 593.97,277.5 619.3,280.77" stroke="#c4c418"/>
<g class="mk"><path d="M391.3 263.31L395.1 268.01L391.3 272.71L387.5 268.01Z" stroke="#c4c418"/><path d="M416.63 278.21L420.43 282.91L416.63 287.61L412.83 282.91Z" stroke="#c4c418"/><path d="M441.97 282.39L445.77 287.09L441.97 291.79L438.17 287.09Z" stroke="#c4c418"/><path d="M467.3 282.39L471.1 287.09L467.3 291.79L463.5 287.09Z" stroke="#c4c418"/><path d="M492.63 266.17L496.43 270.87L492.63 275.57L488.83 270.87Z" stroke="#c4c418"/><path d="M517.97 282.09L521.77 286.79L517.97 291.49L514.17 286.79Z" stroke="#c4c418"/><path d="M543.3 272.8L547.1 277.5L543.3 282.2L539.5 277.5Z" stroke="#c4c418"/><path d="M568.63 278.62L572.43 283.32L568.63 288.02L564.83 283.32Z" stroke="#c4c418"/><path d="M593.97 272.8L597.77 277.5L593.97 282.2L590.17 277.5Z" stroke="#c4c418"/><path d="M619.3 276.07L623.1 280.77L619.3 285.47L615.5 280.77Z" stroke="#c4c418"/></g>
<polyline class="ln" points="391.3,313.73 416.63,351.48 441.97,360.87 467.3,353.62 492.63,315.87 517.97,358.93 543.3,373.73 568.63,308.22 593.97,276.99 619.3,242.7" stroke="#444444"/>
<g class="mk"><rect x="388.4" y="310.83" width="5.8" height="5.8" stroke="#444444"/><rect x="413.73" y="348.58" width="5.8" height="5.8" stroke="#444444"/><rect x="439.07" y="357.97" width="5.8" height="5.8" stroke="#444444"/><rect x="464.4" y="350.72" width="5.8" height="5.8" stroke="#444444"/><rect x="489.73" y="312.97" width="5.8" height="5.8" stroke="#444444"/><rect x="515.07" y="356.03" width="5.8" height="5.8" stroke="#444444"/><rect x="540.4" y="370.83" width="5.8" height="5.8" stroke="#444444"/><rect x="565.73" y="305.32" width="5.8" height="5.8" stroke="#444444"/><rect x="591.07" y="274.09" width="5.8" height="5.8" stroke="#444444"/><rect x="616.4" y="239.8" width="5.8" height="5.8" stroke="#444444"/></g>
<path class="axh" d="M390.7 232.5H619.9M390.7 377.4H619.9"/>
<path class="axv" d="M391.3 232.5V377.4M619.3 232.5V377.4"/>
<text class="yl" x="387.3" y="256.91">0.1</text>
<text class="yl" x="387.3" y="307.93">0.05</text>
<text class="yl" x="387.3" y="358.95">0</text>
<text class="xl" x="389.2" y="390.9">B40</text>
<text class="xl" x="414.53" y="390.9">B45</text>
<text class="xl" x="440.07" y="390.9">B62</text>
<text class="xl" x="465.3" y="390.9">B80</text>
<text class="xl" x="491.88" y="390.9">B100</text>
<text class="xl" x="514.92" y="390.9">P40</text>
<text class="xl" x="541.6" y="390.9">P80</text>
<text class="xl" x="567.83" y="390.9">P120</text>
<text class="xl" x="593.02" y="390.9">P200</text>
<text class="xl" x="618.6" y="390.9">P250</text>
<text class="xl" x="504" y="405">Score matrix</text>
<text class="xl" x="504.5" y="223.2">k=4</text>
<text class="xl" transform="translate(351 304.95) rotate(-90)">DAUC</text>
</g>
</svg>
</body></html>
